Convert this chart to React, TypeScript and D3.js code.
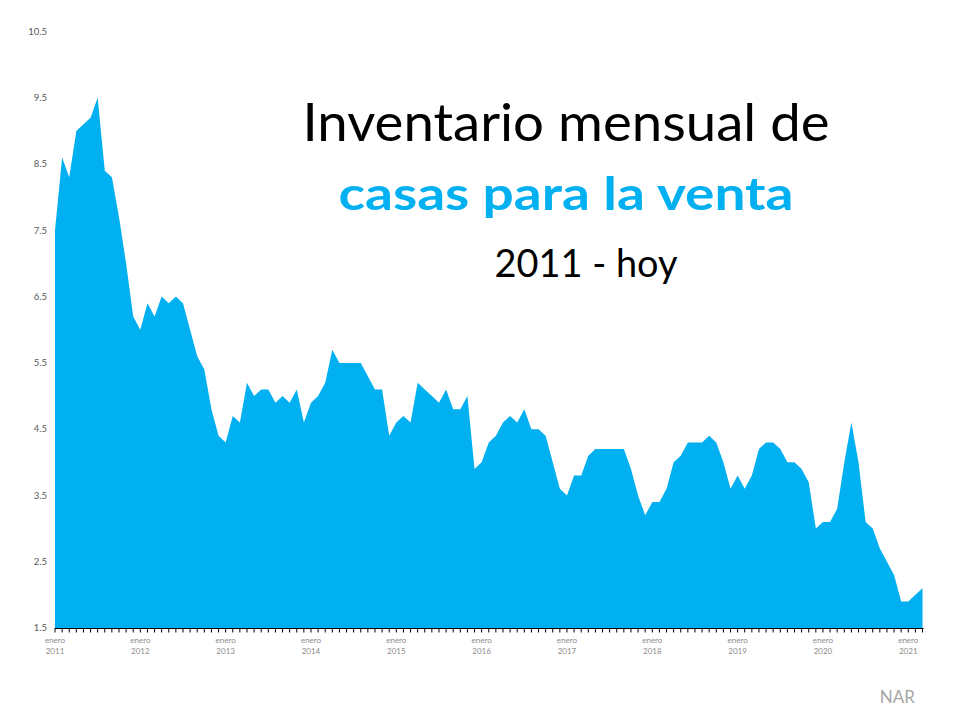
import React from "react";
import * as d3 from "d3";

const startYear = 2011;
const values: number[] = [
  // 2011
  7.5, 8.6, 8.3, 9.0, 9.1, 9.2, 9.5, 8.4, 8.3, 7.7, 7.0, 6.2,
  // 2012
  6.0, 6.4, 6.2, 6.5, 6.4, 6.5, 6.4, 6.0, 5.6, 5.4, 4.8, 4.4,
  // 2013
  4.3, 4.7, 4.6, 5.2, 5.0, 5.1, 5.1, 4.9, 5.0, 4.9, 5.1, 4.6,
  // 2014
  4.9, 5.0, 5.2, 5.7, 5.5, 5.5, 5.5, 5.5, 5.3, 5.1, 5.1, 4.4,
  // 2015
  4.6, 4.7, 4.6, 5.2, 5.1, 5.0, 4.9, 5.1, 4.8, 4.8, 5.0, 3.9,
  // 2016
  4.0, 4.3, 4.4, 4.6, 4.7, 4.6, 4.8, 4.5, 4.5, 4.4, 4.0, 3.6,
  // 2017
  3.5, 3.8, 3.8, 4.1, 4.2, 4.2, 4.2, 4.2, 4.2, 3.9, 3.5, 3.2,
  // 2018
  3.4, 3.4, 3.6, 4.0, 4.1, 4.3, 4.3, 4.3, 4.4, 4.3, 4.0, 3.6,
  // 2019
  3.8, 3.6, 3.8, 4.2, 4.3, 4.3, 4.2, 4.0, 4.0, 3.9, 3.7, 3.0,
  // 2020
  3.1, 3.1, 3.3, 4.0, 4.6, 4.0, 3.1, 3.0, 2.7, 2.5, 2.3, 1.9,
  // 2021
  1.9, 2.0, 2.1,
];
const yTicks: number[] = [1.5, 2.5, 3.5, 4.5, 5.5, 6.5, 7.5, 8.5, 9.5, 10.5];
const yearLabels: number[] = [2011, 2012, 2013, 2014, 2015, 2016, 2017, 2018, 2019, 2020, 2021];
const monthLabel = "enero";
const titleLine1 = "Inventario mensual de";
const titleLine2 = "casas para la venta";
const titleLine3 = "2011 - hoy";
const source = "NAR";

const BLUE = "#00B0F0";
const FONT = "Lato, 'Open Sans', sans-serif";

export default function App() {
  const x = d3.scaleLinear().domain([0, values.length - 1]).range([55, 922.5]);
  const y = d3.scaleLinear().domain([1.5, 10.5]).range([628, 31.5]);
  const area = d3
    .area<number>()
    .x((_, i) => x(i))
    .y0(y(1.5))
    .y1((d) => y(d));
  const monthIdx = d3.range(values.length);

  return (
    <svg
      width={960}
      height={720}
      style={{ position: "absolute", left: 0, top: 0, background: "#fff" }}
      fontFamily={FONT}
    >
      <rect x={0} y={0} width={960} height={720} fill="#fff" />
      <path d={area(values) || ""} fill={BLUE} />
      {yTicks.map((t) => (
        <text
          key={t}
          x={47}
          y={y(t)}
          dy="0.35em"
          textAnchor="end"
          fontSize={9.5}
          fill="#595959"
        >
          {t.toFixed(1)}
        </text>
      ))}
      <line x1={x(0)} x2={x(values.length - 1) + 1} y1={628.5} y2={628.5} stroke="#000" strokeWidth={1.2} />
      {monthIdx.map((i) => (
        <line key={i} x1={x(i)} x2={x(i)} y1={628} y2={632.5} stroke="#000" strokeWidth={1} />
      ))}
      {yearLabels.map((yr) => {
        const cx = x((yr - startYear) * 12);
        return (
          <g key={yr} fill="#8c8c8c" fontSize={8} textAnchor="middle">
            <text x={cx} y={643}>{monthLabel}</text>
            <text x={cx} y={654}>{yr}</text>
          </g>
        );
      })}
      <text
        x={566}
        y={141}
        textAnchor="middle"
        fontSize={52}
        fill="#000"
        textLength={527}
        lengthAdjust="spacingAndGlyphs"
      >
        {titleLine1}
      </text>
      <text
        x={566}
        y={210}
        textAnchor="middle"
        fontSize={46}
        fontWeight="bold"
        fill={BLUE}
        textLength={455}
        lengthAdjust="spacingAndGlyphs"
      >
        {titleLine2}
      </text>
      <text
        x={586}
        y={277}
        textAnchor="middle"
        fontSize={38}
        fill="#000"
        textLength={183}
        lengthAdjust="spacingAndGlyphs"
      >
        {titleLine3}
      </text>
      <text x={915} y={703} textAnchor="end" fontSize={17} fill="#a6a6a6">
        {source}
      </text>
    </svg>
  );
}
